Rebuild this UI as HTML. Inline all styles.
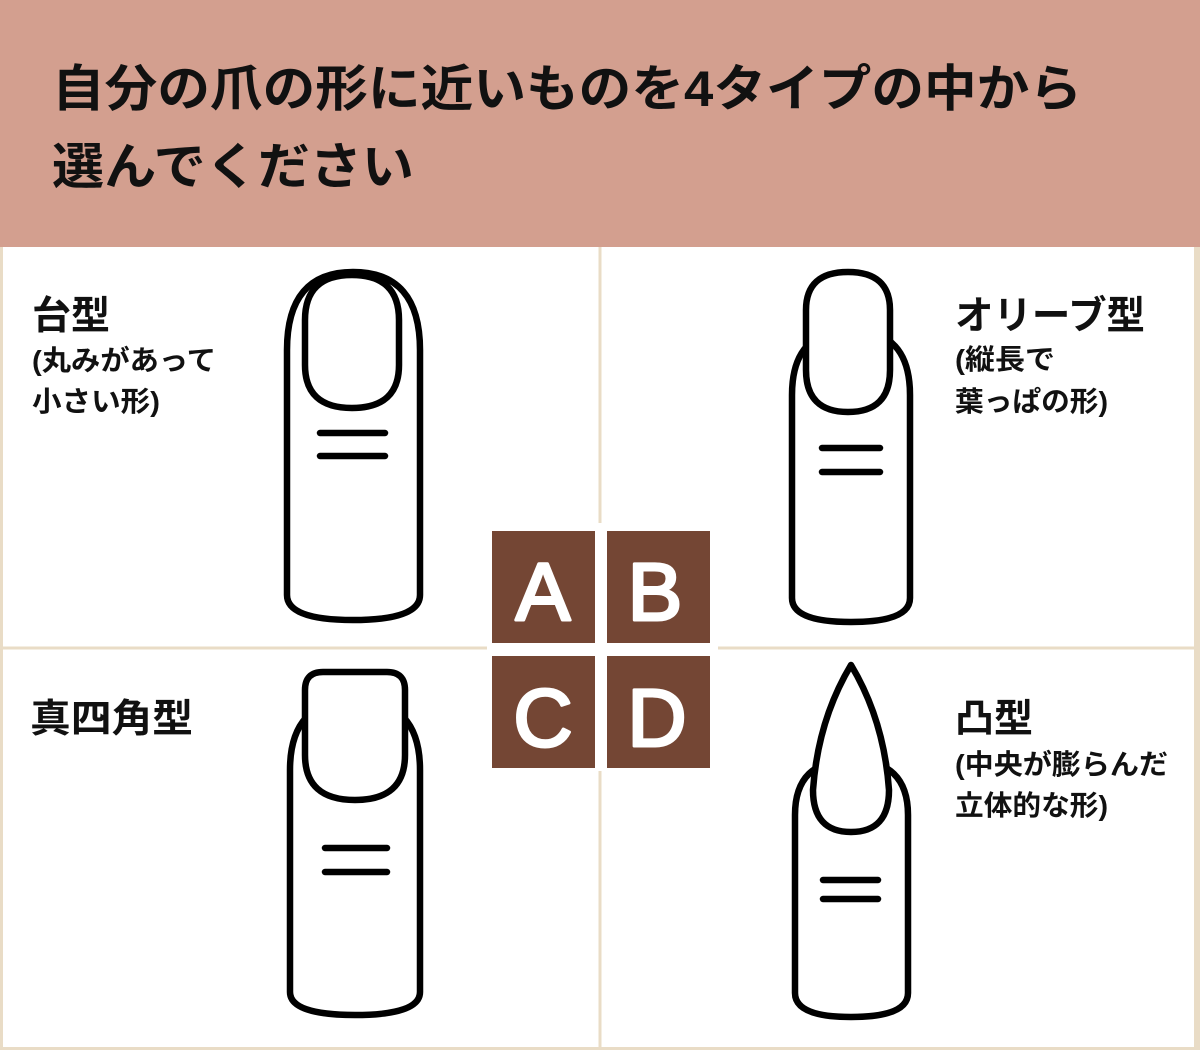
<!DOCTYPE html>
<html><head><meta charset="utf-8"><style>
html,body{margin:0;padding:0;width:1200px;height:1050px;overflow:hidden;background:#fff}
svg{display:block}
text{font-family:"Liberation Sans","Noto Sans CJK JP",sans-serif;font-weight:bold;fill:#111}
</style></head><body>
<svg width="1200" height="1050" viewBox="0 0 1200 1050">
<rect x="0" y="0" width="1200" height="1050" fill="#e9dcc6"/>
<rect x="3" y="247" width="1191" height="800" fill="#fff"/>
<rect x="0" y="0" width="1200" height="247" fill="#d39f8f"/>
<text x="52" y="106" font-size="50" textLength="1030" lengthAdjust="spacingAndGlyphs">自分の爪の形に近いものを4タイプの中から</text>
<text x="52" y="184" font-size="50" textLength="362" lengthAdjust="spacingAndGlyphs">選んでください</text>
<line x1="600" y1="247" x2="600" y2="1050" stroke="#e9dcc6" stroke-width="3"/>
<line x1="0" y1="648" x2="1200" y2="648" stroke="#e9dcc6" stroke-width="3"/>
<text x="32" y="329" font-size="39" textLength="78" lengthAdjust="spacingAndGlyphs">台型</text>
<text x="32" y="370" font-size="28" textLength="184" lengthAdjust="spacingAndGlyphs">(丸みがあって</text>
<text x="32" y="411" font-size="28" textLength="128" lengthAdjust="spacingAndGlyphs">小さい形)</text>
<text x="955" y="329" font-size="39" textLength="190" lengthAdjust="spacingAndGlyphs">オリーブ型</text>
<text x="955" y="369" font-size="28" textLength="100" lengthAdjust="spacingAndGlyphs">(縦長で</text>
<text x="955" y="411" font-size="28" textLength="153" lengthAdjust="spacingAndGlyphs">葉っぱの形)</text>
<text x="30" y="732" font-size="39" textLength="163" lengthAdjust="spacingAndGlyphs">真四角型</text>
<text x="955" y="732" font-size="39" textLength="78" lengthAdjust="spacingAndGlyphs">凸型</text>
<text x="955" y="774" font-size="28" textLength="213" lengthAdjust="spacingAndGlyphs">(中央が膨らんだ</text>
<text x="955" y="815" font-size="28" textLength="153" lengthAdjust="spacingAndGlyphs">立体的な形)</text>
<rect x="487" y="523" width="231" height="248" fill="#fff"/>
<rect x="492" y="531" width="103" height="112" fill="#744634"/>
<rect x="607" y="531" width="103" height="112" fill="#744634"/>
<rect x="492" y="656" width="103" height="112" fill="#744634"/>
<rect x="607" y="656" width="103" height="112" fill="#744634"/>
<g font-size="82" text-anchor="middle" stroke="#fff" stroke-width="3" stroke-linejoin="round">
<text x="543" y="620" style="fill:#fff;font-weight:normal">A</text>
<text x="655" y="620" style="fill:#fff;font-weight:normal">B</text>
<text x="543" y="746" style="fill:#fff;font-weight:normal">C</text>
<text x="657" y="746" style="fill:#fff;font-weight:normal">D</text>
</g>
<g fill="none" stroke="#000" stroke-width="6.5" stroke-linecap="round" stroke-linejoin="round">
<path d="M287,595 L287,350 Q287,272 353,272 Q420,272 420,350 L420,595 Q420,620 353,620 Q287,620 287,595 Z" fill="#fff"/>
<path d="M305,365 L305,320 Q305,275 352,275 Q399,275 399,320 L399,365 Q399,408 352,408 Q305,408 305,365 Z" fill="#fff"/>
<line x1="320" y1="433" x2="385" y2="433"/><line x1="320" y1="456" x2="385" y2="456"/>
<path d="M792,598 L792,395 Q792,330 851,330 Q910,330 910,395 L910,598 Q910,622 851,622 Q792,622 792,598 Z" fill="#fff"/>
<path d="M806,370 L806,310 Q806,272 848,272 Q890,272 890,310 L890,370 Q890,412 848,412 Q806,412 806,370 Z" fill="#fff"/>
<line x1="822" y1="448" x2="880" y2="448"/><line x1="822" y1="472" x2="880" y2="472"/>
<path d="M290,992 L290,770 Q290,700 355,700 Q420,700 420,770 L420,992 Q420,1015 355,1015 Q290,1015 290,992 Z" fill="#fff"/>
<path d="M305,690 Q305,672 323,672 L387,672 Q405,672 405,690 L405,755 Q405,800 355,800 Q305,800 305,755 Z" fill="#fff"/>
<line x1="325" y1="848" x2="387" y2="848"/><line x1="325" y1="872" x2="387" y2="872"/>
<path d="M795,993 L795,815 Q795,760 851,760 Q908,760 908,815 L908,993 Q908,1017 851,1017 Q795,1017 795,993 Z" fill="#fff"/>
<path d="M851,665 Q818,720 813,790 Q813,832 851,832 Q889,832 889,790 Q884,720 851,665 Z" fill="#fff"/>
<line x1="823" y1="880" x2="878" y2="880"/><line x1="823" y1="899" x2="878" y2="899"/>
</g>
</svg>
</body></html>
